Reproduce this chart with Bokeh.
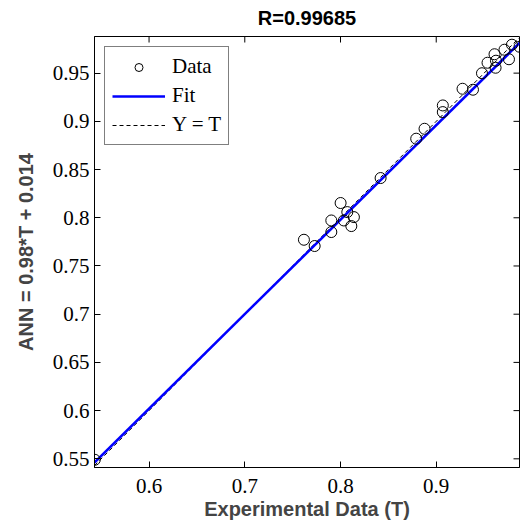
import math
from bokeh.plotting import figure
from bokeh.models import (Range1d, FixedTicker, LinearAxis, Legend, LegendItem, Title)
from bokeh.embed import file_html
from bokeh.resources import INLINE

# ---- data ----
target = [0.5433, 0.7618, 0.7730, 0.7904, 0.7904, 0.8001, 0.8071, 0.8035, 0.8113,
          0.8140, 0.8419, 0.8791, 0.8878, 0.9069, 0.9069, 0.9275, 0.9384, 0.9478,
          0.9536, 0.9609, 0.9624, 0.9620, 0.9713, 0.9760, 0.9791, 0.9870]
output = [0.5490, 0.7772, 0.7707, 0.7852, 0.7972, 0.8153, 0.8059, 0.7972, 0.7914,
          0.8007, 0.8412, 0.8820, 0.8923, 0.9165, 0.9096, 0.9338, 0.9328, 0.9499,
          0.9608, 0.9696, 0.9629, 0.9556, 0.9743, 0.9644, 0.9795, 0.9774]
fit_slope = 0.98
fit_intercept = 0.014
r_value = "0.99685"
x_lim = [0.543, 0.987]
y_lim = [0.541, 0.988]
x_ticks = [0.6, 0.7, 0.8, 0.9]
x_tick_labels = ["0.6", "0.7", "0.8", "0.9"]
y_ticks = [0.55, 0.6, 0.65, 0.7, 0.75, 0.8, 0.85, 0.9, 0.95]
y_tick_labels = ["0.55", "0.6", "0.65", "0.7", "0.75", "0.8", "0.85", "0.9", "0.95"]

SERIF = "Liberation Serif"
SANS = "Liberation Sans"

p = figure(width=520, height=522, output_backend="svg", toolbar_location=None,
           x_range=Range1d(*x_lim), y_range=Range1d(*y_lim),
           min_border_left=94, min_border_right=1, min_border_top=36, min_border_bottom=55,
           x_axis_location=None, y_axis_location=None)
p.grid.visible = False
p.outline_line_color = "black"
p.outline_line_width = 1
p.background_fill_color = "white"
p.border_fill_color = "white"

p.title = Title(text="R=" + r_value, align="center", text_font=SANS,
                text_font_size="20px", text_font_style="bold", text_color="black",
                standoff=11, vertical_align="top")


def make_axis(ticks, labels, standoff):
    ax = LinearAxis(ticker=FixedTicker(ticks=ticks))
    ax.major_label_overrides = {t: l for t, l in zip(ticks, labels)}
    ax.major_tick_in = 6
    ax.major_tick_out = 0
    ax.minor_tick_in = 0
    ax.minor_tick_out = 0
    ax.axis_line_color = "black"
    ax.major_tick_line_color = "black"
    ax.major_label_text_font = SERIF
    ax.major_label_text_font_size = "21px"
    ax.major_label_text_color = "black"
    ax.major_label_standoff = standoff
    return ax

xb = make_axis(x_ticks, x_tick_labels, 11)
xb.axis_label = "Experimental Data (T)"
xb.axis_label_text_font = SANS
xb.axis_label_text_font_size = "20px"
xb.axis_label_text_font_style = "bold"
xb.axis_label_standoff = 2
p.add_layout(xb, "below")

yl = make_axis(y_ticks, y_tick_labels, 5)
yl.axis_label = "ANN = 0.98*T + 0.014"
yl.axis_label_text_font = SANS
yl.axis_label_text_font_size = "20px"
yl.axis_label_text_font_style = "bold"
yl.axis_label_standoff = 13
p.add_layout(yl, "left")

# mirrored inner ticks on top and right edges (clipped to the frame)
p.scatter(x=x_ticks, y=[y_lim[1]] * len(x_ticks), marker="dash", angle=math.pi / 2,
          size=12, line_color="black", line_width=1)
p.scatter(x=[x_lim[1]] * len(y_ticks), y=y_ticks, marker="dash",
          size=12, line_color="black", line_width=1)

# Y = T line
r_yt = p.line(x=x_lim, y=x_lim, line_color="black", line_width=1, line_dash="4 3")
# Fit line
fit_y = [fit_slope * x + fit_intercept for x in x_lim]
r_fit = p.line(x=x_lim, y=fit_y, line_color="#0000ff", line_width=2.5)
# Data
r_data = p.scatter(x=target, y=output, marker="circle", size=11, fill_color=None,
                   line_color="black", line_width=1)

legend = Legend(items=[LegendItem(label="Data", renderers=[r_data]),
                       LegendItem(label="Fit", renderers=[r_fit]),
                       LegendItem(label="Y = T", renderers=[r_yt])],
                location="top_left")
legend.label_text_font = SERIF
legend.label_text_font_size = "21px"
legend.label_text_color = "black"
legend.glyph_width = 53
legend.glyph_height = 20
legend.label_height = 20
legend.spacing = 4
legend.padding = 7
legend.margin = 10
legend.label_standoff = 7
legend.border_line_color = "black"
legend.border_line_width = 1
legend.background_fill_color = "white"
legend.background_fill_alpha = 1
p.add_layout(legend)

open("out.html", "w").write(file_html(p, INLINE))
